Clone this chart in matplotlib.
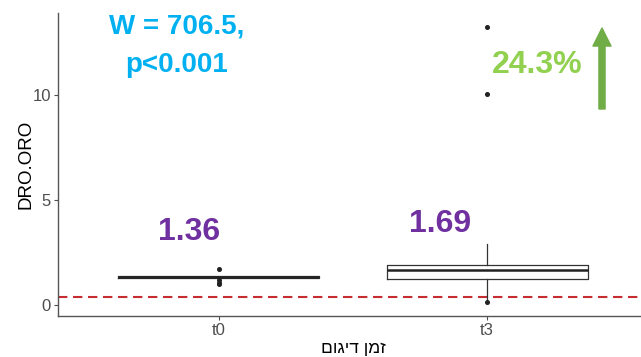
import matplotlib.pyplot as plt

# data
groups = ['t0', 't3']
q1 = [1.31, 1.27]
medians = [1.36, 1.67]
q3 = [1.40, 1.94]
whisker_lo = [1.31, 0.24]
whisker_hi = [1.40, 2.94]
outliers = [[1.71, 1.19, 1.05, 1.0], [13.25, 10.05, 0.16]]
median_labels = ['1.36', '1.69']
threshold = 0.4
stat_text = 'W = 706.5,\np<0.001'
change_text = '24.3%'

plt.rcParams['font.family'] = ['Liberation Sans', 'DejaVu Sans']

fig = plt.figure(figsize=(6.41, 3.57), dpi=100)
ax = fig.add_axes([58 / 641, 41 / 357, 590 / 641, 303 / 357])

stats = []
for i, g in enumerate(groups):
    stats.append(dict(label=g, q1=q1[i], med=medians[i], q3=q3[i],
                      whislo=whisker_lo[i], whishi=whisker_hi[i], fliers=outliers[i]))

ax.bxp(stats, positions=[1, 2], widths=0.75, showcaps=False,
       boxprops=dict(color='#333333', linewidth=0.9),
       whiskerprops=dict(color='#333333', linewidth=0.9),
       medianprops=dict(color='#222222', linewidth=1.8),
       flierprops=dict(marker='o', markersize=2.6, markerfacecolor='#222222',
                       markeredgecolor='#222222'))

ax.axhline(threshold, color='#C62D30', linewidth=1.5, dashes=(4.5, 2.7), zorder=0)

ax.set_xlim(0.4, 2.6)
ax.set_ylim(-0.5, 13.9)
ax.set_yticks([0, 5, 10])
ax.set_xticks([1, 2])
ax.set_xticklabels(groups)
ax.tick_params(colors='#4D4D4D', labelsize=12, length=3, width=0.8, pad=2)
for s in ['top', 'right']:
    ax.spines[s].set_visible(False)
for s in ['left', 'bottom']:
    ax.spines[s].set_color('#555555')
    ax.spines[s].set_linewidth(1.0)

ax.set_ylabel('DRO.ORO', fontsize=13.5, color='black')
ax.yaxis.set_label_coords(-32 / 590, 0.5)
ax.yaxis.label.set_va('center')
# hebrew reversed so it reads right to left
ax.set_xlabel('זמן דיגום'[::-1], fontsize=12.5, color='black')
ax.xaxis.set_label_coords(0.5, -33 / 303)
ax.xaxis.label.set_va('center')

# annotations
fig.text(177 / 641, 1 - 34 / 357, stat_text.split('\n')[0], color='#00B0F0', fontsize=20,
         fontweight='bold', ha='center', va='baseline')
fig.text(177 / 641, 1 - 72 / 357, stat_text.split('\n')[1], color='#00B0F0', fontsize=20,
         fontweight='bold', ha='center', va='baseline')
fig.text(537 / 641, 1 - 73 / 357, change_text, color='#92D050', fontsize=23,
         fontweight='bold', ha='center', va='baseline')
fig.text(189 / 641, 1 - 240 / 357, median_labels[0], color='#7030A0', fontsize=23,
         fontweight='bold', ha='center', va='baseline')
fig.text(440 / 641, 1 - 232 / 357, median_labels[1], color='#7030A0', fontsize=23,
         fontweight='bold', ha='center', va='baseline')

ax.annotate('', xy=(602 / 641, 1 - 28 / 357), xytext=(602 / 641, 1 - 109 / 357),
            xycoords='figure fraction', textcoords='figure fraction',
            arrowprops=dict(arrowstyle='simple,head_width=0.65,head_length=0.65,tail_width=0.22',
                            color='#70AD47', shrinkA=0, shrinkB=0, mutation_scale=20))

fig.savefig('out.png', dpi=100)
